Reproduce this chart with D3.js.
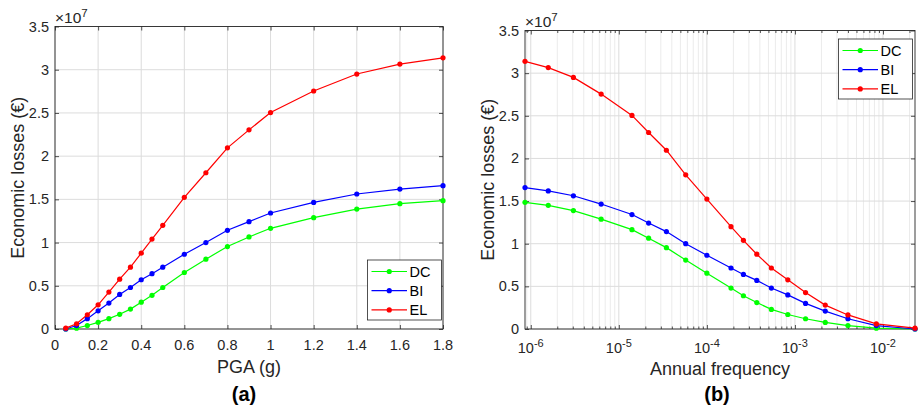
<!DOCTYPE html>
<html><head><meta charset="utf-8">
<script src="https://cdn.jsdelivr.net/npm/d3@7"></script>
<style>body{margin:0;background:#fff}svg{display:block;font-family:"Liberation Sans",Arial,Helvetica,sans-serif}</style>
</head><body><svg id="c" width="924" height="410"></svg>
<script>
// ---- data (losses in units of 1e7 EUR) ----
const pga = [0.05,0.1,0.15,0.2,0.25,0.3,0.35,0.4,0.45,0.5,0.6,0.7,0.8,0.9,1.0,1.2,1.4,1.6,1.8];
const annualFreq = [0.0231,8.4e-3,4.0e-3,2.21e-3,1.32e-3,8.3e-4,5.4e-4,3.69e-4,2.6e-4,1.88e-4,1.0e-4,5.75e-5,3.47e-5,2.18e-5,1.41e-5,6.3e-6,3.05e-6,1.58e-6,8.6e-7];
const dcLoss = [0,0.01,0.04,0.077,0.12,0.17,0.23,0.31,0.39,0.48,0.654,0.808,0.954,1.065,1.165,1.288,1.388,1.45,1.485];
const biLoss = [0,0.04,0.12,0.21,0.30,0.40,0.48,0.57,0.64,0.715,0.865,1.0,1.142,1.242,1.342,1.465,1.562,1.619,1.658];
const elLoss = [0.01,0.06,0.165,0.28,0.427,0.577,0.715,0.877,1.04,1.2,1.523,1.808,2.096,2.304,2.504,2.754,2.95,3.065,3.138];
const seriesNames = ["DC","BI","EL"];
const seriesColors = ["#00ff00","#0000ff","#ff0000"];
const yTicks = [0,0.5,1,1.5,2,2.5,3,3.5];
const pgaTicks = [0,0.2,0.4,0.6,0.8,1,1.2,1.4,1.6,1.8];
const freqTickExp = [-6,-5,-4,-3,-2];
const panelLabels = ["(a)","(b)"];
const xLabels = ["PGA (g)","Annual frequency"];
const yLabel = "Economic losses (€)";

const seriesVals = [dcLoss, biLoss, elLoss];
const svg = d3.select("#c");
const axisCol = "#262626";
const gridCol = "#dcdcdc";
const minorGridCol = "#ebebeb";

function drawPanel(o) {
  const g = svg.append("g");
  const {x, y, L, R, T, B} = o;
  if (o.minor) {
    o.minor.forEach(v => {
      g.append("line").attr("x1", x(v)).attr("x2", x(v)).attr("y1", T).attr("y2", B)
        .attr("stroke", minorGridCol).attr("stroke-width", 1);
    });
  }
  o.xTicks.forEach(v => g.append("line").attr("x1", x(v)).attr("x2", x(v)).attr("y1", T).attr("y2", B)
      .attr("stroke", gridCol).attr("stroke-width", 1));
  yTicks.forEach(v => g.append("line").attr("x1", L).attr("x2", R).attr("y1", y(v)).attr("y2", y(v))
      .attr("stroke", gridCol).attr("stroke-width", 1));

  g.append("g").attr("transform", `translate(0,${B})`)
    .call(d3.axisBottom(x).tickValues(o.xTicks).tickSizeInner(-4).tickSizeOuter(0).tickFormat(""));
  g.append("g").attr("transform", `translate(0,${T})`)
    .call(d3.axisTop(x).tickValues(o.xTicks).tickSizeInner(-4).tickSizeOuter(0).tickFormat(""));
  g.append("g").attr("transform", `translate(${L},0)`)
    .call(d3.axisLeft(y).tickValues(yTicks).tickSizeInner(-4).tickSizeOuter(0).tickFormat(""));
  g.append("g").attr("transform", `translate(${R},0)`)
    .call(d3.axisRight(y).tickValues(yTicks).tickSizeInner(-4).tickSizeOuter(0).tickFormat(""));
  if (o.minor) {
    g.append("g").attr("transform", `translate(0,${B})`)
      .call(d3.axisBottom(x).tickValues(o.minor).tickSizeInner(-2.5).tickSizeOuter(0).tickFormat(""));
    g.append("g").attr("transform", `translate(0,${T})`)
      .call(d3.axisTop(x).tickValues(o.minor).tickSizeInner(-2.5).tickSizeOuter(0).tickFormat(""));
  }
  g.selectAll(".domain").remove();
  g.selectAll(".tick line").attr("stroke", axisCol).attr("stroke-width", 0.8);
  g.append("rect").attr("x", L).attr("y", T).attr("width", R - L).attr("height", B - T)
    .attr("fill", "none").attr("stroke", axisCol).attr("stroke-width", 0.9);

  yTicks.forEach(v => g.append("text").attr("x", L - 6).attr("y", y(v) + 5)
    .attr("text-anchor", "end").attr("font-size", 14.5).attr("fill", axisCol).text(v));
  o.xTicks.forEach((v, i) => {
    const t = g.append("text").attr("x", x(v)).attr("y", o.xTickY)
      .attr("text-anchor", "middle").attr("font-size", 14.5).attr("fill", axisCol);
    if (o.log) {
      t.append("tspan").text("10");
      t.append("tspan").attr("dy", -6).attr("font-size", 11).text(String(freqTickExp[i]));
    } else t.text(v);
  });
  const ex = g.append("text").attr("x", L).attr("y", T - 3.5).attr("font-size", 15.5).attr("fill", axisCol);
  ex.append("tspan").text("×10");
  ex.append("tspan").attr("dy", -6).attr("font-size", 11.5).text("7");

  g.append("text").attr("x", (L + R) / 2).attr("y", o.xLabY).attr("text-anchor", "middle")
    .attr("font-size", 18).attr("fill", axisCol).text(o.xLabel);
  g.append("text").attr("transform", `translate(${o.yLabX},${(T + B) / 2}) rotate(-90)`)
    .attr("text-anchor", "middle").attr("font-size", 18).attr("fill", axisCol).text(yLabel);
  g.append("text").attr("x", o.panelX).attr("y", 401).attr("text-anchor", "middle")
    .attr("font-size", 20).attr("font-weight", "bold").attr("fill", "#000").text(o.panel);

  seriesVals.forEach((vals, si) => {
    const pts = o.xVals.map((xv, k) => [xv, vals[k]]);
    g.append("path").datum(pts).attr("fill", "none").attr("stroke", seriesColors[si])
      .attr("stroke-width", 1.2).attr("d", d3.line().x(d => x(d[0])).y(d => y(d[1])));
    g.selectAll(null).data(pts).enter().append("circle")
      .attr("cx", d => x(d[0])).attr("cy", d => y(d[1])).attr("r", 2.6).attr("fill", seriesColors[si]);
  });

  const lg = g.append("g");
  lg.append("rect").attr("x", o.leg[0]).attr("y", o.leg[1]).attr("width", 74).attr("height", 60)
    .attr("fill", "#fff").attr("stroke", axisCol).attr("stroke-width", 0.8);
  seriesNames.forEach((nm, i) => {
    const cy = o.leg[1] + 11.5 + i * 19.2;
    const x0 = o.leg[0] + 4, x1 = o.leg[0] + 39.5;
    lg.append("line").attr("x1", x0).attr("x2", x1).attr("y1", cy).attr("y2", cy)
      .attr("stroke", seriesColors[i]).attr("stroke-width", 1.2);
    lg.append("circle").attr("cx", (x0 + x1) / 2).attr("cy", cy).attr("r", 2.6).attr("fill", seriesColors[i]);
    lg.append("text").attr("x", x1 + 2.5).attr("y", cy + 5).attr("font-size", 14.5).attr("fill", "#000").text(nm);
  });
}

{
  const L = 55, R = 443, T = 26.5, B = 329;
  const x = d3.scaleLinear().domain([0, 1.8]).range([L, R]);
  const y = d3.scaleLinear().domain([0, 3.5]).range([B, T]);
  drawPanel({x, y, L, R, T, B, xTicks: pgaTicks, xVals: pga, xTickY: 350, xLabY: 372.5,
    xLabel: xLabels[0], yLabX: 24, panel: panelLabels[0], panelX: 244, leg: [367.5, 260]});
}
{
  const L = 525, R = 915, T = 30.5, B = 329;
  const x = d3.scaleLog().domain(d3.extent(annualFreq)).range([L, R]);
  const y = d3.scaleLinear().domain([0, 3.5]).range([B, T]);
  const dom = x.domain();
  const minor = [];
  for (let e = -7; e <= -1; e++) for (let k = 2; k <= 9; k++) {
    const v = k * Math.pow(10, e);
    if (v >= dom[0] && v <= dom[1]) minor.push(v);
  }
  const xt = freqTickExp.map(e => Math.pow(10, e));
  drawPanel({x, y, L, R, T, B, xTicks: xt, xVals: annualFreq, xTickY: 353, xLabY: 375, log: true, minor,
    xLabel: xLabels[1], yLabX: 494, panel: panelLabels[1], panelX: 717, leg: [838.5, 39]});
}
</script></body></html>
